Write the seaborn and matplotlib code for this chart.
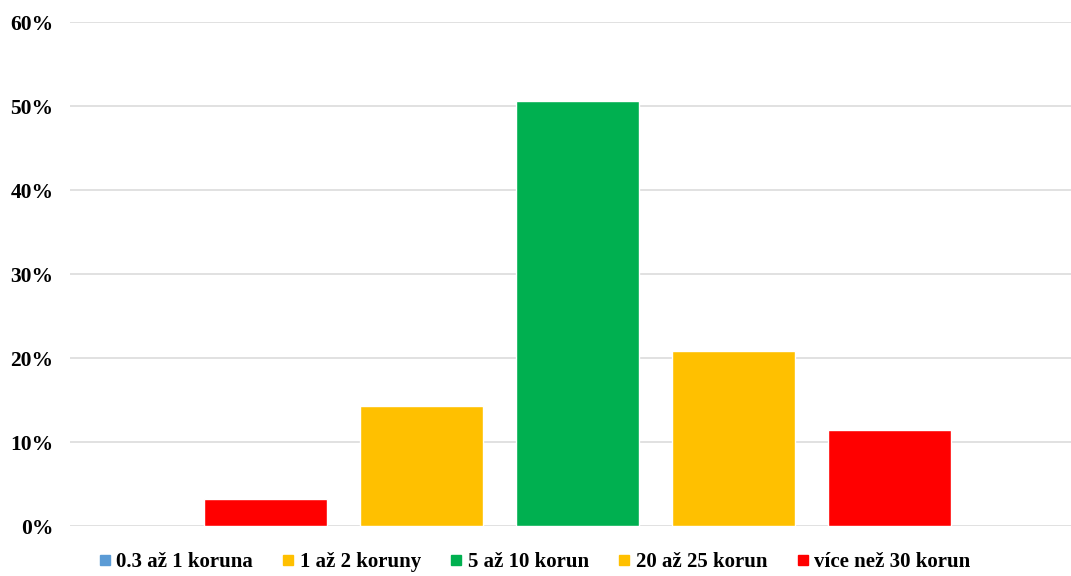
import matplotlib
matplotlib.use("Agg")
import matplotlib.pyplot as plt
from matplotlib.lines import Line2D
import seaborn as sns
import pandas as pd

# Share of answers per price band (percent)
bars = ["A", "B", "C", "D", "E"]
values = [3.2, 14.3, 50.6, 20.8, 11.4]
bar_colors = ["#FF0000", "#FFC000", "#00B050", "#FFC000", "#FF0000"]

legend_labels = ["0.3 až 1 koruna", "1 až 2 koruny", "5 až 10 korun",
                 "20 až 25 korun", "více než 30 korun"]
legend_colors = ["#5B9BD5", "#FFC000", "#00B050", "#FFC000", "#FF0000"]

y_ticks = [0, 10, 20, 30, 40, 50, 60]

sns.set_theme(style="white")
plt.rcParams["font.family"] = ["Liberation Serif", "DejaVu Serif"]
plt.rcParams["text.color"] = "black"
plt.rcParams["ytick.color"] = "black"

df = pd.DataFrame({"pásmo": bars, "podíl": values})

fig = plt.figure(figsize=(10.71, 5.76), dpi=100)
ax = fig.add_axes([70 / 1071, 50 / 576, 1001 / 1071, 504 / 576])

sns.barplot(data=df, x="pásmo", y="podíl", hue="pásmo", order=bars,
            palette=dict(zip(bars, bar_colors)), width=0.79, saturation=1,
            legend=False, ax=ax, zorder=3)

ax.set_xlim(-1.253, 5.163)
ax.set_ylim(0, 60)
ax.set_yticks(y_ticks)
ax.set_yticklabels([f"{t}%" for t in y_ticks], fontsize=15.5, fontweight="bold",
                   color="black")
ax.set_xticks([])
ax.set_xlabel("")
ax.set_ylabel("")
ax.grid(axis="y", color="#D9D9D9", linewidth=1.1, zorder=0)
ax.tick_params(axis="y", length=0, pad=12)
for s in ax.spines.values():
    s.set_visible(False)

handles = [Line2D([], [], marker="s", linestyle="none", markersize=7.5,
                  markerfacecolor=c, markeredgecolor=c) for c in legend_colors]
fig.legend(handles, legend_labels, loc="center", bbox_to_anchor=(0.499, 0.024),
           ncol=5, frameon=False, handlelength=0.6, handletextpad=0.25,
           columnspacing=1.4, borderpad=0.1,
           prop={"family": "Liberation Serif", "weight": "bold", "size": 15})

fig.savefig("out.png", dpi=100)
